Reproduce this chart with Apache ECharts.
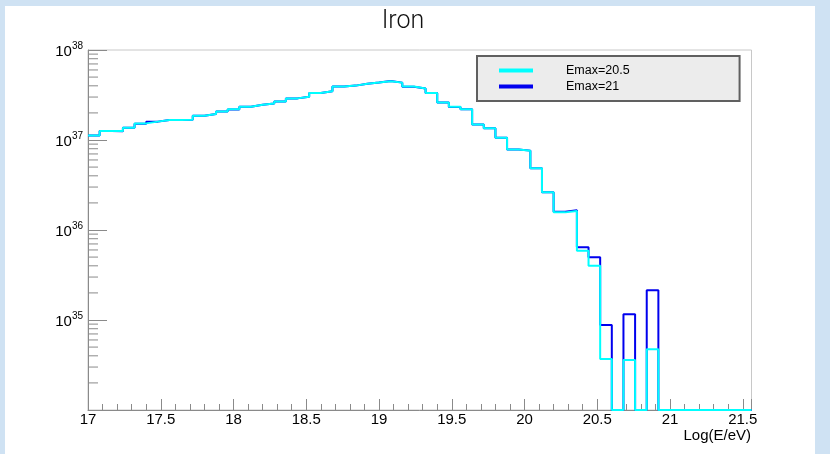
<!DOCTYPE html>
<html>
<head>
<meta charset="utf-8">
<script src="https://cdn.jsdelivr.net/npm/echarts@6/dist/echarts.min.js"></script>
<style>
html,body{margin:0;padding:0;background:#ffffff;}
#chart{width:830px;height:454px;}
</style>
</head>
<body>
<div id="chart"></div>
<script>
// Histogram: 57 bins of 0.08 starting at 17 (bin low edges)
const binStart = 17;
const binWidth = 0.08;
// Emax=20.5 (cyan)
const emax205 = [
  1.12e37, 1.26e37, 1.26e37, 1.37e37, 1.53e37, 1.60e37, 1.67e37, 1.67e37, 1.68e37, 1.86e37,
  1.95e37, 2.07e37, 2.19e37, 2.34e37, 2.46e37, 2.54e37, 2.68e37, 2.90e37, 3.03e37, 3.33e37,
  3.48e37, 3.92e37, 4.02e37, 4.21e37, 4.36e37, 4.49e37, 4.34e37, 3.92e37, 3.73e37, 3.33e37,
  2.61e37, 2.34e37, 2.20e37, 1.49e37, 1.35e37, 1.06e37, 7.82e36, 7.60e36, 4.85e36, 2.62e36,
  1.57e36, 1.63e36, 5.89e35, 4.01e35, 3.69e34, 0, 3.59e34, 0, 4.72e34, 0,
  0, 0, 0, 0, 0, 0, 0
];
// Emax=21 (blue)
const emax21 = [
  1.12e37, 1.26e37, 1.25e37, 1.37e37, 1.52e37, 1.60e37, 1.67e37, 1.67e37, 1.68e37, 1.86e37,
  1.95e37, 2.07e37, 2.18e37, 2.34e37, 2.46e37, 2.54e37, 2.68e37, 2.90e37, 3.03e37, 3.33e37,
  3.48e37, 3.92e37, 4.02e37, 4.21e37, 4.36e37, 4.52e37, 4.34e37, 3.90e37, 3.73e37, 3.33e37,
  2.61e37, 2.33e37, 2.20e37, 1.49e37, 1.35e37, 1.06e37, 7.82e36, 7.62e36, 4.85e36, 2.62e36,
  1.60e36, 1.66e36, 6.43e35, 4.98e35, 8.8e34, 0, 1.16e35, 0, 2.14e35, 0,
  0, 0, 0, 0, 0, 0, 0
];
const seriesNames = ['Emax=20.5', 'Emax=21'];
const xRange = [17, 21.56];
const yDecades = [34, 35, 36, 37, 38];

const Y_MIN = 1e34, Y_MAX = 1e38;

function toSteps(vals) {
  const pts = vals.map((v, i) => [+(binStart + i * binWidth).toFixed(4), v > 0 ? v : Y_MIN]);
  const last = vals[vals.length - 1];
  pts.push([+(binStart + vals.length * binWidth).toFixed(4), last > 0 ? last : Y_MIN]);
  return pts;
}

// minor log ticks (2..9 x 10^n)
const minorTickData = [];
for (let d = yDecades[0]; d < yDecades[yDecades.length - 1]; d++) {
  for (let m = 2; m <= 9; m++) minorTickData.push([xRange[0], m * Math.pow(10, d)]);
}

const chart = echarts.init(document.getElementById('chart'), null, {renderer: 'canvas'});
const option = {
  animation: false,
  backgroundColor: '#ffffff',
  title: {
    text: 'Iron',
    left: 398, top: 4, textAlign: 'center',
    textStyle: {fontFamily: 'Roboto', fontWeight: 300, fontSize: 25, color: '#111'}
  },
  graphic: [
    {type: 'rect', left: 0, top: 0, shape: {width: 830, height: 6}, style: {fill: '#cfe2f3'}, silent: true},
    {type: 'rect', left: 0, top: 0, shape: {width: 5, height: 454}, style: {fill: '#cfe2f3'}, silent: true},
    {type: 'rect', left: 815, top: 0, shape: {width: 15, height: 454}, style: {fill: '#cfe2f3'}, silent: true},
    {type: 'text', right: 79, top: 428, silent: true,
      style: {text: 'Log(E/eV)', fontFamily: 'Liberation Sans', fontSize: 15, fill: '#000'}}
  ],
  legend: {
    data: seriesNames,
    orient: 'vertical',
    left: 477, top: 56,
    icon: 'rect',
    itemWidth: 34, itemHeight: 4,
    itemGap: 3,
    padding: [8, 110, 8, 22],
    backgroundColor: '#ececec',
    borderColor: '#606060', borderWidth: 2,
    textStyle: {fontFamily: 'Liberation Sans', fontSize: 12.5, color: '#000', padding: [0, 0, 0, 28]}
  },
  grid: {
    left: 88, right: 78.5, top: 50, bottom: 44,
    outerBoundsMode: 'none', containLabel: false,
    show: true, borderColor: '#c8c8c8', borderWidth: 1, backgroundColor: 'transparent'
  },
  xAxis: {
    type: 'value', min: xRange[0], max: xRange[1], interval: 0.5,
    axisLine: {show: true, lineStyle: {color: '#8a8a8a', width: 1}},
    axisTick: {show: true, inside: true, length: 11, lineStyle: {color: '#8a8a8a'}},
    minorTick: {show: true, splitNumber: 5, length: 6, lineStyle: {color: '#8a8a8a'}},
    splitLine: {show: false},
    axisLabel: {fontFamily: 'Liberation Sans', fontSize: 15, color: '#000', margin: 2,
      showMaxLabel: false,
      formatter: v => String(+v.toFixed(1))}
  },
  yAxis: {
    type: 'log', logBase: 10, min: Y_MIN, max: Y_MAX, interval: 1,
    axisLine: {show: true, lineStyle: {color: '#8a8a8a', width: 1}},
    axisTick: {show: true, inside: true, length: 19, lineStyle: {color: '#8a8a8a'}},
    minorTick: {show: false},
    splitLine: {show: false},
    axisLabel: {
      margin: 5,
      formatter: v => {
        const e = Math.round(Math.log10(v));
        if (e === yDecades[0]) return '';
        return '{b|10}{s|' + e + '}';
      },
      rich: {
        b: {fontFamily: 'Liberation Sans', fontSize: 15, color: '#000', lineHeight: 18, verticalAlign: 'bottom'},
        s: {fontFamily: 'Liberation Sans', fontSize: 10, color: '#000', lineHeight: 18, verticalAlign: 'top'}
      }
    }
  },
  series: [
    {
      name: seriesNames[1], type: 'line', step: 'end', data: toSteps(emax21),
      symbol: 'none', lineStyle: {color: '#0000ee', width: 2}, itemStyle: {color: '#0000ee'},
      clip: true, z: 3
    },
    {
      name: seriesNames[0], type: 'line', step: 'end', data: toSteps(emax205),
      symbol: 'none', lineStyle: {color: '#00ffff', width: 2}, itemStyle: {color: '#00ffff'},
      clip: true, z: 4
    },
    {
      name: 'minorTicks', type: 'custom', data: minorTickData, silent: true, z: 2,
      renderItem: (params, api) => {
        const p = api.coord([api.value(0), api.value(1)]);
        return {type: 'line', shape: {x1: p[0], y1: p[1], x2: p[0] + 10, y2: p[1]},
          style: {stroke: '#8a8a8a', lineWidth: 1}};
      }
    }
  ]
};
chart.setOption(option);
</script>
</body>
</html>
